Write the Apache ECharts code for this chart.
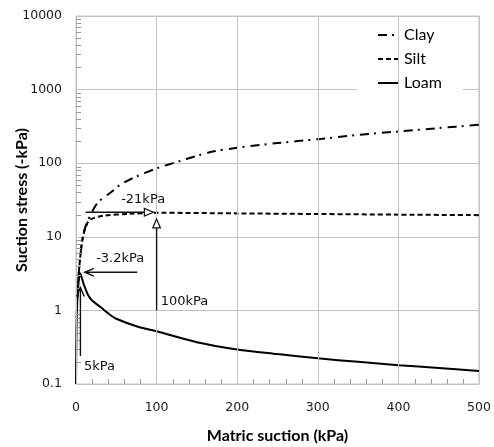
<!DOCTYPE html>
<html><head><meta charset="utf-8">
<script src="https://cdn.jsdelivr.net/npm/echarts@6/dist/echarts.min.js"></script>
<style>html,body{margin:0;padding:0;background:#fff}#c{width:494px;height:447px}</style>
</head><body><div id="c"></div>
<script>
// ---- data ----
const seriesNames = ['Clay', 'Silt', 'Loam'];
const clayX = [1.5, 3, 5, 7, 10, 15, 20, 28, 43, 55, 75, 100, 130, 150, 170, 200, 250, 300, 350, 400, 450, 500];
const clayY = [1.5, 2.8, 5, 7.8, 12, 16.7, 22, 30, 40, 51, 66, 85, 108, 126, 144, 162, 188, 212, 242, 270, 300, 333];
const siltX = [1.5, 3, 5, 7, 9, 11, 15, 21, 34, 67, 100, 200, 300, 400, 500];
const siltY = [1.5, 2.8, 5, 7.8, 10.5, 12.4, 16, 17.8, 19.3, 20.5, 21.2, 20.8, 20.4, 20.0, 19.7];
const loamX = [0, 0.4, 1, 2, 3, 4, 5, 7, 10, 15, 20, 30, 40, 50, 75, 100, 150, 200, 250, 300, 350, 400, 450, 500];
const loamY = [0.1, 0.35, 0.9, 1.6, 2.3, 2.9, 3.2, 2.8, 2.2, 1.62, 1.36, 1.12, 0.91, 0.77, 0.61, 0.52, 0.37, 0.295, 0.255, 0.223, 0.2, 0.18, 0.165, 0.15];

const xTicks = [0, 100, 200, 300, 400, 500];
const yTicks = [0.1, 1, 10, 100, 1000, 10000];
const xMinorTicks = [20, 40, 60, 80, 120, 140, 160, 180, 220, 240, 260, 280, 320, 340, 360, 380, 420, 440, 460, 480];
const yMinorTicks = [0.2, 0.3, 0.4, 0.5, 0.6, 0.7, 0.8, 0.9,
                     2, 3, 4, 5, 6, 7, 8, 9,
                     20, 30, 40, 50, 60, 70, 80, 90,
                     200, 300, 400, 500, 600, 700, 800, 900,
                     2000, 3000, 4000, 5000, 6000, 7000, 8000, 9000];

// annotations (data coordinates)
const noteText  = ['-21kPa', '100kPa', '-3.2kPa', '5kPa'];
const arrowFrom = [[12, 21.6], [100, 1], [76, 3.3], [5.5, 0.24]];
const arrowTo   = [[96, 21.6], [100, 17.5], [11, 3.3], [5.5, 2.05]];
const arrowHead = ['triangle', 'triangle', 'vee', 'vee'];
const noteAt    = [[56, 31.7], [105, 1.32], [25, 5.1], [10, 0.173]];

// ---- chart ----
const zip = (xs, ys) => xs.map((x, i) => [x, ys[i]]);
const fmt = v => String(Number(Number(v).toPrecision(6)));
const gridColor = '#c3c3c3';
const tickColor = '#9a9a9a';
const tickFont = { fontFamily: 'DejaVu Sans', fontSize: 12.5, color: '#1a1a1a' };
const nameFont = { fontFamily: 'Lato', fontWeight: 'bold', fontSize: 16, color: '#000' };
const X0 = xTicks[0], Y0 = yTicks[0];

const chart = echarts.init(document.getElementById('c'), null, { renderer: 'canvas' });
chart.setOption({
  animation: false,
  backgroundColor: '#fff',
  grid: { left: 76, top: 16, width: 403, height: 368, containLabel: false, outerBoundsMode: 'none',
          show: true, borderColor: gridColor, borderWidth: 1 },
  legend: {
    data: seriesNames, orient: 'vertical', left: 357, top: 22,
    padding: [5, 21, 5, 20], backgroundColor: '#fff', z: 1,
    itemWidth: 21, itemHeight: 14, itemGap: 8,
    itemStyle: { color: 'transparent', borderColor: 'transparent', borderWidth: 0 },
    textStyle: { fontFamily: 'Lato', fontSize: 16, color: '#000', lineHeight: 16 }
  },
  xAxis: {
    type: 'value', min: xTicks[0], max: xTicks[xTicks.length - 1], interval: 100, z: 3,
    name: 'Matric suction (kPa)', nameLocation: 'middle', nameGap: 44, nameTextStyle: nameFont,
    nameMoveOverlap: false,
    axisLine: { show: true, onZero: false, lineStyle: { color: gridColor } },
    axisTick: { show: false },
    splitLine: { show: true, lineStyle: { color: gridColor, width: 1 } },
    axisLabel: Object.assign({ margin: 17, formatter: fmt }, tickFont)
  },
  yAxis: {
    type: 'log', logBase: 10, min: yTicks[0], max: yTicks[yTicks.length - 1], z: 0,
    name: 'Suction stress (-kPa)', nameLocation: 'middle', nameGap: 46, nameRotate: 90, nameTextStyle: nameFont,
    nameMoveOverlap: false,
    axisLine: { show: true, lineStyle: { color: gridColor } },
    axisTick: { show: false },
    splitLine: { show: true, lineStyle: { color: gridColor, width: 1 } },
    axisLabel: Object.assign({ margin: 14, formatter: fmt }, tickFont)
  },
  series: [
    { name: 'Clay', type: 'line', data: zip(clayX, clayY), showSymbol: false, symbol: 'none', smooth: 0.3, z: 2,
      color: '#000', lineStyle: { color: '#000', width: 2, type: [9, 5, 2, 6] } },
    { name: 'Silt', type: 'line', data: zip(siltX, siltY), showSymbol: false, symbol: 'none', smooth: 0.3, z: 2,
      color: '#000', lineStyle: { color: '#000', width: 2, type: [5, 3] } },
    { name: 'Loam', type: 'line', data: zip(loamX, loamY), showSymbol: false, symbol: 'none', smooth: 0.3, z: 2,
      color: '#000', lineStyle: { color: '#000', width: 2 } },
    { name: 'minorTicks', type: 'custom', clip: false, z: 4, silent: true,
      data: [[X0 + 1, Y0 * 2]],
      renderItem: function (params, api) {
        const children = [];
        xMinorTicks.forEach(function (v) {
          const p = api.coord([v, Y0]);
          const x = Math.round(p[0]) + 0.5;
          children.push({ type: 'line', shape: { x1: x, y1: p[1], x2: x, y2: p[1] - 5 },
            style: { stroke: tickColor, lineWidth: 1, fill: null } });
        });
        yMinorTicks.forEach(function (v) {
          const p = api.coord([X0, v]);
          const y = Math.round(p[1]) + 0.5;
          children.push({ type: 'line', shape: { x1: p[0], y1: y, x2: p[0] + 5, y2: y },
            style: { stroke: tickColor, lineWidth: 1, fill: null } });
        });
        return { type: 'group', children: children };
      }
    },
    { name: 'notes', type: 'custom', clip: false, z: 5, silent: true,
      data: arrowTo.map(p => p.slice()),
      renderItem: function (params, api) {
        const i = params.dataIndex;
        const p0 = api.coord(arrowFrom[i]), p1 = api.coord(arrowTo[i]);
        const dx = p1[0] - p0[0], dy = p1[1] - p0[1];
        const L = Math.hypot(dx, dy), ux = dx / L, uy = dy / L, nx = -uy, ny = ux;
        const hl = 9, hw = 3.8;
        const base = [p1[0] - ux * hl, p1[1] - uy * hl];
        const stroke = { stroke: '#111', lineWidth: 1.4, fill: null };
        const children = [];
        if (arrowHead[i] === 'triangle') {
          children.push({ type: 'line', shape: { x1: p0[0], y1: p0[1], x2: base[0], y2: base[1] }, style: stroke });
          children.push({ type: 'polygon', shape: { points: [p1, [base[0] + nx * hw, base[1] + ny * hw], [base[0] - nx * hw, base[1] - ny * hw]] },
            style: { stroke: '#111', lineWidth: 1.2, fill: '#fff' } });
        } else {
          children.push({ type: 'line', shape: { x1: p0[0], y1: p0[1], x2: p1[0], y2: p1[1] }, style: stroke });
          children.push({ type: 'polyline', shape: { points: [[base[0] + nx * hw, base[1] + ny * hw], p1, [base[0] - nx * hw, base[1] - ny * hw]] },
            style: stroke });
        }
        const t = api.coord(noteAt[i]);
        children.push({ type: 'text', x: t[0], y: t[1], style: { text: noteText[i], fill: '#111',
          font: '13px "DejaVu Sans"', align: 'left', verticalAlign: 'middle' } });
        return { type: 'group', children: children };
      }
    }
  ]
});
</script></body></html>
